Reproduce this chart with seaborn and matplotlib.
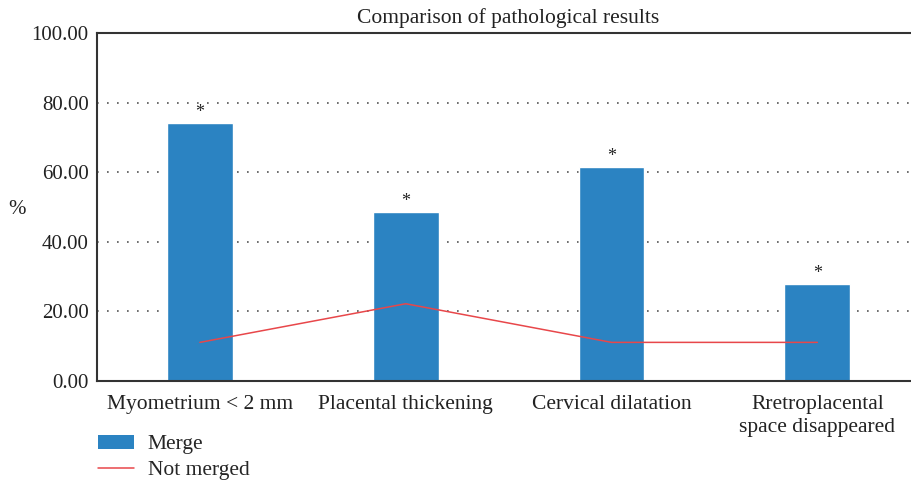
import pandas as pd
import matplotlib.pyplot as plt
import seaborn as sns
from matplotlib.patches import Patch
from matplotlib.lines import Line2D

categories = ['Myometrium < 2 mm', 'Placental thickening', 'Cervical dilatation',
              'Rretroplacental\nspace disappeared']
merge = [74.1, 48.6, 61.5, 27.9]
not_merged = [11.1, 22.2, 11.1, 11.1]

df = pd.DataFrame({'cat': categories, 'merge': merge, 'not_merged': not_merged})

sns.set_style('white')
plt.rcParams['font.family'] = ['Liberation Serif', 'DejaVu Serif']

fig = plt.figure(figsize=(9.12, 4.83), dpi=100)
ax = fig.add_axes([97 / 912, 102 / 483, 813 / 912, 348 / 483])

blue = '#2b83c2'
red = '#e8474a'
sns.barplot(data=df, x='cat', y='merge', color=blue, width=0.32, saturation=1, ax=ax)
sns.lineplot(x=list(range(len(categories))), y=not_merged, color=red, lw=1.1, ax=ax)

# significance markers
for i, v in enumerate(merge):
    ax.text(i, v + 0.6, '*', ha='center', va='bottom', fontsize=13, color='#222222')

ax.set_ylim(0, 100)
ax.set_xlim(-0.5, 3.45)
ax.set_yticks([0, 20, 40, 60, 80, 100])
ax.set_yticklabels(['%.2f' % t for t in [0, 20, 40, 60, 80, 100]], fontsize=15, color='#222222')
ax.tick_params(axis='x', labelsize=15.5, colors='#222222', length=0, pad=10)
ax.tick_params(axis='y', length=0, pad=6)
for lbl in ax.get_xticklabels():
    lbl.set_color('#222222')
    lbl.set_linespacing(1.3)
ax.set_xlabel('')
ax.set_ylabel('')
ax.yaxis.grid(True, linestyle=(0, (1, 5)), color='#555555', lw=1.2)
ax.set_axisbelow(True)

for s in ['left', 'bottom', 'top']:
    ax.spines[s].set_visible(True)
    ax.spines[s].set_color('#333333')
    ax.spines[s].set_linewidth(1.5)
ax.spines['right'].set_visible(False)

fig.text(508 / 912, 1 - 18 / 483, 'Comparison of pathological results', ha='center', va='center',
         fontsize=15.5, color='#222222')
fig.text(17 / 912, 1 - 210 / 483, '%', ha='center', va='center', fontsize=15, color='#222222')

handles = [Patch(facecolor=blue, edgecolor='none'), Line2D([0], [0], color=red, lw=1.1)]
fig.legend(handles, ['Merge', 'Not merged'], loc='upper left', bbox_to_anchor=(98 / 912, 1 - 435 / 483),
           frameon=False, fontsize=15.5, handlelength=1.65, handleheight=0.6, labelspacing=0.3,
           handletextpad=0.65, borderpad=0, borderaxespad=0)

fig.savefig('out.png', dpi=100)
